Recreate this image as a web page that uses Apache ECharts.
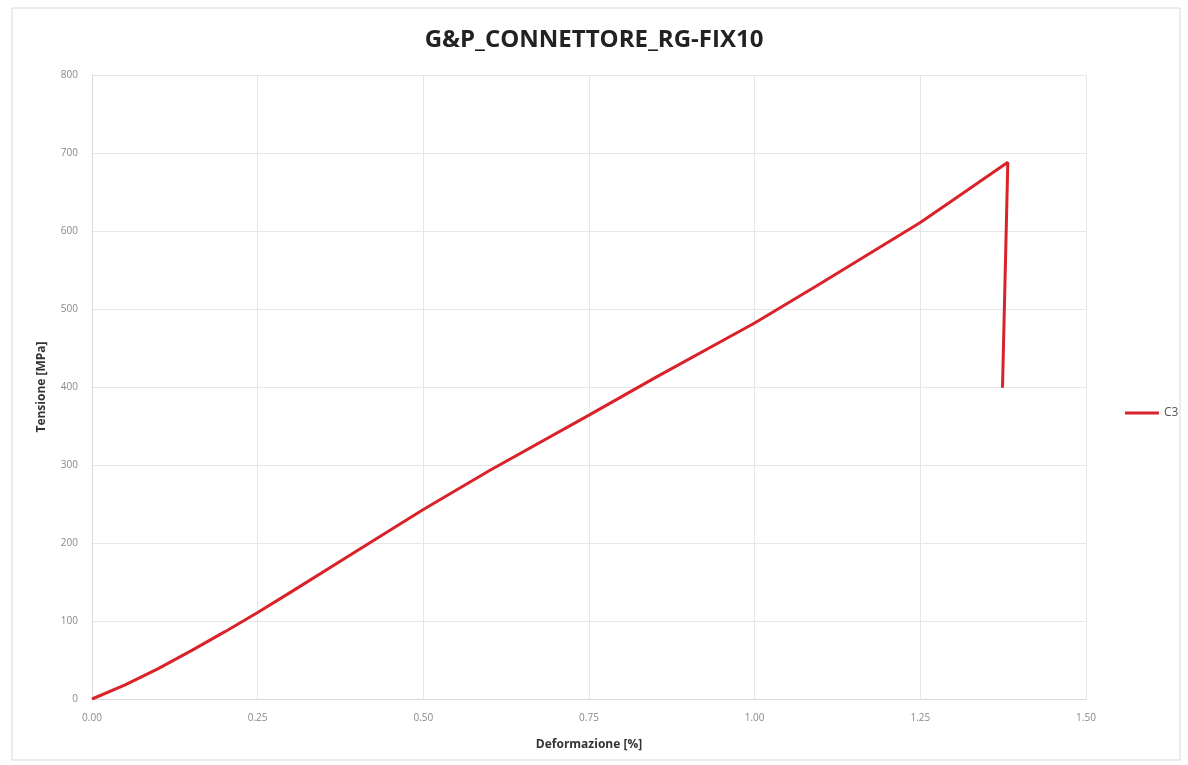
<!DOCTYPE html>
<html>
<head>
<meta charset="utf-8">
<script src="https://cdn.jsdelivr.net/npm/echarts@6/dist/echarts.min.js"></script>
<style>html,body{margin:0;padding:0;background:#fff}#c{width:1188px;height:765px}</style>
</head>
<body>
<div id="c"></div>
<script>
const titleText = 'G&P_CONNETTORE_RG-FIX10';
const seriesName = 'C3';
const deformazione = [0, 0.05, 0.10, 0.15, 0.20, 0.25, 0.30, 0.40, 0.50, 0.60, 0.75, 0.85, 1.00, 1.10, 1.25, 1.30, 1.382, 1.374];
const tensione =     [0, 18,   39,   62,   86,   111,  137,  190,  243,  293,  364,  412,  482,  533,  611,  640,  688,   399];

const FONT = 'Open Sans';
const chart = echarts.init(document.getElementById('c'));
chart.setOption({
  animation: false,
  backgroundColor: '#fff',
  title: {
    text: titleText, left: 'center', top: 23,
    textStyle: { fontFamily: FONT, fontWeight: 'bold', fontSize: 24, color: '#222' }
  },
  graphic: [{
    type: 'rect', shape: { x: 12, y: 8, width: 1168, height: 752 },
    style: { fill: 'none', stroke: '#d9d9d9', lineWidth: 1 }, silent: true
  }],
  legend: {
    orient: 'vertical', left: 1120, top: 402, itemWidth: 34, itemHeight: 3, itemGap: 4,
    data: [{ name: seriesName, icon: 'rect' }],
    textStyle: { fontFamily: FONT, fontSize: 12, color: '#555' }
  },
  grid: { left: 92, right: 102, top: 75, bottom: 66, containLabel: false },
  xAxis: {
    type: 'value', min: 0, max: 1.5, interval: 0.25,
    name: 'Deformazione [%]', nameLocation: 'middle', nameGap: 40,
    nameTextStyle: { fontFamily: FONT, fontWeight: 'bold', fontSize: 12, color: '#333' },
    axisLine: { show: true, lineStyle: { color: '#d9d9d9' } },
    axisTick: { show: false },
    axisLabel: { formatter: v => v.toFixed(2), color: '#888', fontSize: 10, margin: 14, fontFamily: FONT },
    splitLine: { show: true, lineStyle: { color: '#e6e6e6' } }
  },
  yAxis: {
    type: 'value', min: 0, max: 800, interval: 100,
    name: 'Tensione [MPa]', nameLocation: 'middle', nameGap: 44, nameRotate: 90,
    nameTextStyle: { fontFamily: FONT, fontWeight: 'bold', fontSize: 12, color: '#333' },
    axisLine: { show: true, lineStyle: { color: '#d9d9d9' } },
    axisTick: { show: false },
    axisLabel: { color: '#888', fontSize: 10, margin: 14, fontFamily: FONT },
    splitLine: { show: true, lineStyle: { color: '#e6e6e6' } }
  },
  series: [{
    name: seriesName, type: 'line', showSymbol: false, symbol: 'none',
    data: deformazione.map((x, i) => [x, tensione[i]]),
    lineStyle: { color: '#d9222a', width: 3 }, itemStyle: { color: '#d9222a' }
  }]
});
</script>
</body>
</html>
